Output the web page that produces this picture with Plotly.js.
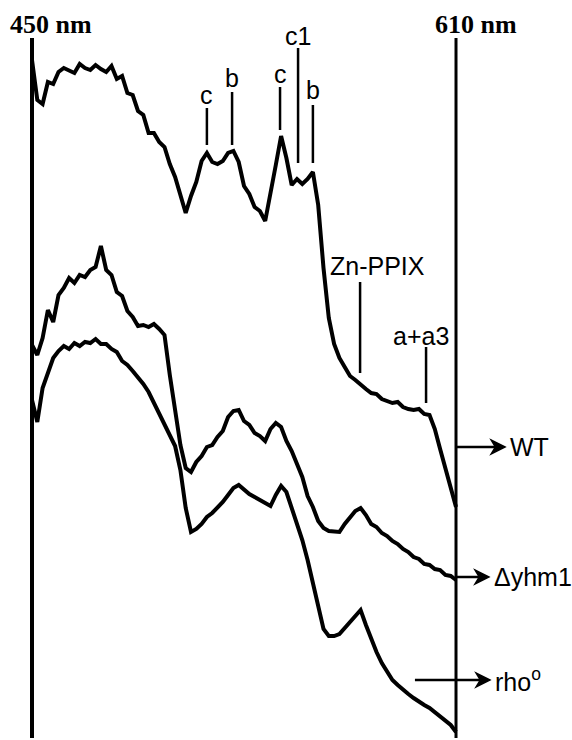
<!DOCTYPE html>
<html>
<head>
<meta charset="utf-8">
<script src="https://cdn.plot.ly/plotly-3.0.1.min.js"></script>
<style>html,body{margin:0;padding:0;background:#fff;}#chart{width:572px;height:740px;}</style>
</head>
<body>
<div id="chart"></div>
<script>
// Wavelength grid (nm)
const wavelength = [450,452,454,456,458,460,462,464,466,468,
  470,472,474,476,478,480,482,484,486,488,
  490,492,494,496,498,500,502,504,506,508,
  510,512,514,516,518,520,522,524,526,528,
  530,532,534,536,538,540,542,544,546,548,
  550,552,554,556,558,560,562,564,566,568,
  570,572,574,576,578,580,582,584,586,588,
  590,592,594,596,598,600,602,604,606,608,610];

// Relative absorbance (arbitrary units, traces offset)
const wtValues = [680,640,636,658,656,668,672,670,667,676,
  672,670,675,671,668,674,661,664,647,645,
  629,625,607,607,598,593,576,563,544,527,
  544,558,579,587,578,576,579,587,589,578,
  554,546,533,529,519,545,575,604,582,555,
  561,556,561,568,535,472,422,396,382,373,
  364,360,355,351,347,346,341,339,337,338,
  333,331,330,331,326,325,311,291,271,251,233];

const yhm1Values = [395,385,402,430,418,445,452,462,457,465,
  463,470,473,494,470,465,448,444,429,423,
  414,415,413,416,411,405,365,330,295,272,
  268,278,284,293,295,303,309,323,329,330,
  319,315,307,304,299,311,317,313,299,289,
  275,263,244,233,219,212,209,209,208,216,
  222,229,232,225,216,213,207,204,199,196,
  191,188,183,181,176,175,171,170,165,164,160];

const rhoValues = [340,318,352,366,382,389,394,391,397,394,
  398,397,401,396,396,391,388,379,375,369,
  363,356,348,337,327,314,305,294,270,232,
  208,211,216,223,227,232,238,245,252,255,
  250,246,243,240,236,234,245,254,248,232,
  215,200,180,158,135,111,104,104,106,112,
  118,124,130,115,100,88,77,68,60,55,
  50,46,42,38,35,32,28,24,20,15,8];

// Band labels
const bandLabels = ["c","b","c","c1","b"];
const bandWavelengths = [516.0,525.5,543.6,550.4,556.0];
const bandLineLow = [595,595,610,577,577];
const bandLineHigh = [632,648,653,692,635];
const bandTextY = [645,662,666,704,650];

const strainLabels = ["WT","\u0394yhm1","rho<sup>o</sup>"];
const strainY = [293,163,60];

const FONT = "Liberation Sans, Arial, Helvetica, sans-serif";

const traceStyle = {mode:"lines", line:{color:"#000", width:4}, hoverinfo:"skip", showlegend:false};
const data = [
  Object.assign({x:wavelength, y:wtValues, name:"WT"}, traceStyle),
  Object.assign({x:wavelength, y:yhm1Values, name:"\u0394yhm1"}, traceStyle),
  Object.assign({x:wavelength, y:rhoValues, name:"rho0"}, traceStyle)
];

const shapes = [
  {type:"line", xref:"x", yref:"y", x0:450, x1:450, y0:2, y1:702, line:{color:"#000", width:4}},
  {type:"line", xref:"x", yref:"y", x0:610, x1:610, y0:2, y1:702, line:{color:"#000", width:3}}
];
const annotations = [
  {xref:"x", yref:"y", x:457, y:716, text:"<b>450 nm</b>", showarrow:false,
   font:{family:"Liberation Serif, Times New Roman, serif", size:26, color:"#000"}},
  {xref:"x", yref:"y", x:617.5, y:716, text:"<b>610 nm</b>", showarrow:false,
   font:{family:"Liberation Serif, Times New Roman, serif", size:26, color:"#000"}}
];

bandLabels.forEach((t,i)=>{
  shapes.push({type:"line", xref:"x", yref:"y", x0:bandWavelengths[i], x1:bandWavelengths[i],
    y0:bandLineLow[i], y1:bandLineHigh[i], line:{color:"#000", width:2.5}});
  annotations.push({xref:"x", yref:"y", x:bandWavelengths[i], y:bandTextY[i], text:t,
    showarrow:false, font:{family:FONT, size:25, color:"#000"}});
});

// Zn-PPIX and a+a3 markers
shapes.push({type:"line", xref:"x", yref:"y", x0:573.8, x1:573.8, y0:367, y1:458, line:{color:"#000", width:2.5}});
annotations.push({xref:"x", yref:"y", x:580.2, y:474, text:"Zn-PPIX", showarrow:false, font:{family:FONT, size:25, color:"#000"}});
shapes.push({type:"line", xref:"x", yref:"y", x0:598.7, x1:598.7, y0:337, y1:393, line:{color:"#000", width:2.5}});
annotations.push({xref:"x", yref:"y", x:596.8, y:404, text:"a+a3", showarrow:false, font:{family:FONT, size:25, color:"#000"}});

// Strain arrows (line + barbed head)
const arrowTail = [610, 610, 594.5];
const arrowHead = [628.5, 622.4, 622.8];
const labelX = [629.6, 623.6, 623.9];
strainLabels.forEach((t,i)=>{
  const hx = arrowHead[i], y = strainY[i];
  shapes.push({type:"line", xref:"x", yref:"y", x0:arrowTail[i], x1:hx - 1.5, y0:y, y1:y,
    line:{color:"#000", width:2.5}});
  shapes.push({type:"path", xref:"x", yref:"y",
    path:`M ${hx},${y} L ${hx-5.2},${y+7} L ${hx-3.6},${y} L ${hx-5.2},${y-7} Z`,
    fillcolor:"#000", line:{color:"#000", width:1.5}});
  annotations.push({xref:"x", yref:"y", x:labelX[i], y:y, text:t, xanchor:"left",
    showarrow:false, font:{family:FONT, size:25, color:"#000"}});
});

const layout = {
  width:572, height:740,
  margin:{l:0, r:0, t:0, b:0},
  paper_bgcolor:"#fff", plot_bgcolor:"#fff",
  xaxis:{range:[437.925, 653.77], visible:false, fixedrange:true},
  yaxis:{range:[0, 740], visible:false, fixedrange:true},
  shapes:shapes, annotations:annotations, showlegend:false
};

Plotly.newPlot("chart", data, layout, {staticPlot:true, displayModeBar:false});
</script>
</body>
</html>
